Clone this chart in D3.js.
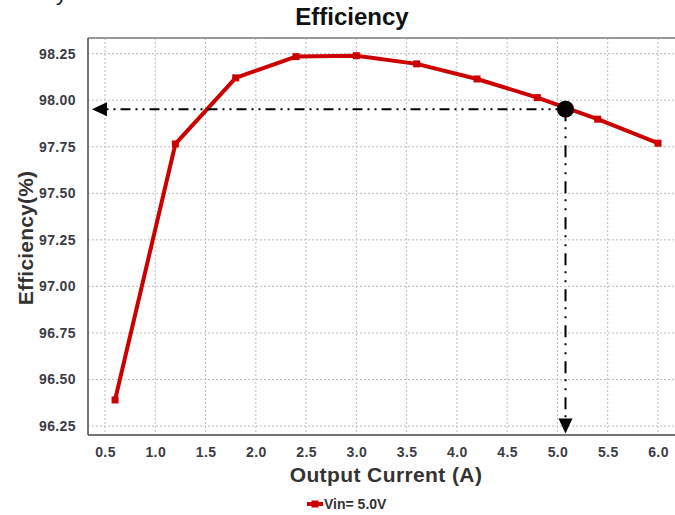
<!DOCTYPE html>
<html>
<head>
<meta charset="utf-8">
<script src="https://cdn.jsdelivr.net/npm/d3@7"></script>
<style>
  html, body { margin: 0; padding: 0; background: #fff; }
  svg { display: block; font-family: "Liberation Sans", Arial, sans-serif; }
</style>
</head>
<body>
<svg id="chart" width="675" height="515"></svg>
<script>
// ---- data ----
const currents = [0.6, 1.2, 1.8, 2.4, 3.0, 3.6, 4.2, 4.8, 5.4, 6.0];
const efficiency = [96.39, 97.765, 98.12, 98.234, 98.239, 98.195, 98.114, 98.014, 97.898, 97.769];
const xTicks = [0.5, 1.0, 1.5, 2.0, 2.5, 3.0, 3.5, 4.0, 4.5, 5.0, 5.5, 6.0];
const yTicks = [96.25, 96.50, 96.75, 97.00, 97.25, 97.50, 97.75, 98.00, 98.25];
const seriesName = "Vin= 5.0V";
const titleText = "Efficiency";
const xTitle = "Output Current (A)";
const yTitle = "Efficiency(%)";
// annotation: operating point and arrow ends (data units)
const opPoint = [5.08, 97.952];
const arrowLeftX = 0.37;
const arrowBottomY = 96.21;

// ---- layout ----
const W = 675, H = 515;
const L = 88, R = 675, T = 38, B = 435;
const red = "#cc0000";

const svg = d3.select("#chart");
const x = d3.scaleLinear().domain([0.331, 6.169]).range([L, R]);
const y = d3.scaleLinear().domain([96.202, 98.334]).range([B, T]);

// stray fragment of preceding text at top
svg.append("text").attr("x", 56).attr("y", 0).attr("font-size", 22)
  .attr("fill", "#111").text("y");

// title
svg.append("text").attr("x", 352).attr("y", 25).attr("text-anchor", "middle")
  .attr("font-size", 24).attr("font-weight", "bold").attr("fill", "#111")
  .text(titleText);

// grid
const grid = svg.append("g");
grid.selectAll("line.v").data(xTicks).join("line")
  .attr("x1", d => x(d)).attr("x2", d => x(d)).attr("y1", T).attr("y2", B)
  .attr("stroke", "#bdbdbd").attr("stroke-width", 1).attr("stroke-dasharray", "2,2");
grid.selectAll("line.h").data(yTicks).join("line")
  .attr("x1", L).attr("x2", R).attr("y1", d => y(d)).attr("y2", d => y(d))
  .attr("stroke", "#bdbdbd").attr("stroke-width", 1).attr("stroke-dasharray", "2,2");

// frame
svg.append("line").attr("x1", L).attr("x2", R).attr("y1", T).attr("y2", T)
  .attr("stroke", "#9a9a9a").attr("stroke-width", 2);

// axes
const xAxis = d3.axisBottom(x).tickValues(xTicks).tickFormat(d3.format(".1f")).tickSize(0).tickPadding(12);
const yAxis = d3.axisLeft(y).tickValues(yTicks).tickFormat(d3.format(".2f")).tickSize(0).tickPadding(12);
const gx = svg.append("g").attr("transform", `translate(0,${B})`).call(xAxis);
const gy = svg.append("g").attr("transform", `translate(${L},0)`).call(yAxis);
[gx, gy].forEach(g => {
  g.select(".domain").attr("stroke", "#444").attr("stroke-width", 1.6);
  g.selectAll("text").attr("font-size", 14).attr("font-weight", "bold")
    .attr("fill", "#3c3c44").attr("font-family", "'Liberation Sans', Arial, sans-serif")
    .attr("letter-spacing", "0.4px");
});
gx.select(".domain").attr("d", `M${L},0H${R}`);
gy.select(".domain").attr("d", `M0,${T}V${B}`).attr("stroke", "#555");

// axis titles
svg.append("text").attr("x", 386).attr("y", 482).attr("text-anchor", "middle")
  .attr("font-size", 21).attr("font-weight", "bold").attr("fill", "#333")
  .attr("letter-spacing", "0.4px").text(xTitle);
svg.append("text").attr("transform", "translate(33,238) rotate(-90)")
  .attr("text-anchor", "middle").attr("font-size", 21).attr("font-weight", "bold")
  .attr("fill", "#333").attr("letter-spacing", "0.2px").text(yTitle);

// data line
const pts = currents.map((c, i) => [c, efficiency[i]]);
svg.append("path").datum(pts)
  .attr("d", d3.line().x(d => x(d[0])).y(d => y(d[1])))
  .attr("fill", "none").attr("stroke", red).attr("stroke-width", 4)
  .attr("stroke-linejoin", "round");
svg.selectAll("rect.pt").data(pts).join("rect")
  .attr("x", d => x(d[0]) - 3.5).attr("y", d => y(d[1]) - 3.5)
  .attr("width", 7).attr("height", 7).attr("fill", red);

// annotation arrows
const px = x(opPoint[0]), py = y(opPoint[1]);
const ax = x(arrowLeftX), by = y(arrowBottomY);
const head = 15, half = 7;
svg.append("line").attr("x1", px).attr("x2", ax + head).attr("y1", py).attr("y2", py)
  .attr("stroke", "#000").attr("stroke-width", 2).attr("stroke-dasharray", "10,5,2,5,2,5");
svg.append("path").attr("d", `M${ax},${py}L${ax + head},${py - half}L${ax + head},${py + half}Z`).attr("fill", "#000");
svg.append("line").attr("x1", px).attr("x2", px).attr("y1", py).attr("y2", by - head)
  .attr("stroke", "#000").attr("stroke-width", 2).attr("stroke-dasharray", "12,6,2,7,2,7");
svg.append("path").attr("d", `M${px},${by}L${px - half},${by - head}L${px + half},${by - head}Z`).attr("fill", "#000");
svg.append("circle").attr("cx", px).attr("cy", py).attr("r", 8.5).attr("fill", "#000");

// legend
const lg = svg.append("g").attr("transform", "translate(307,504)");
lg.append("line").attr("x1", 0).attr("x2", 16).attr("y1", 0).attr("y2", 0)
  .attr("stroke", red).attr("stroke-width", 4);
lg.append("rect").attr("x", 4.5).attr("y", -3.5).attr("width", 7).attr("height", 7).attr("fill", red);
lg.append("text").attr("x", 17).attr("y", 5).attr("font-size", 14).attr("font-weight", "bold")
  .attr("fill", "#333").text(seriesName);
</script>
</body>
</html>
